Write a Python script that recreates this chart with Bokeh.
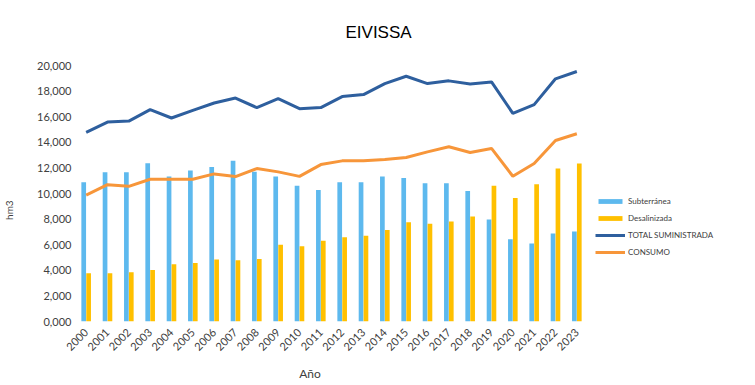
import math
from bokeh.plotting import figure
from bokeh.models import FactorRange, Range1d, Legend, LegendItem, ColumnDataSource, FixedTicker
from bokeh.transform import dodge
from bokeh.embed import file_html
from bokeh.resources import INLINE

years = ["2000", "2001", "2002", "2003", "2004", "2005", "2006", "2007", "2008", "2009", "2010", "2011",
         "2012", "2013", "2014", "2015", "2016", "2017", "2018", "2019", "2020", "2021", "2022", "2023"]
subterranea = [10880, 11660, 11660, 12370, 11320, 11790, 12080, 12550, 11690, 11320, 10610, 10270,
               10880, 10880, 11320, 11220, 10800, 10800, 10200, 7970, 6430, 6090, 6880, 7030]
desalinizada = [3760, 3760, 3840, 4030, 4470, 4580, 4840, 4780, 4890, 5990, 5880, 6300,
                6590, 6690, 7140, 7760, 7630, 7820, 8210, 10610, 9650, 10720, 11950, 12340]
total_suministrada = [14770, 15580, 15660, 16550, 15900, 16500, 17070, 17460, 16710, 17410, 16630, 16710,
                      17570, 17730, 18590, 19160, 18590, 18800, 18560, 18720, 16260, 16940, 18960, 19530]
consumo = [9880, 10690, 10560, 11110, 11110, 11110, 11530, 11320, 11950, 11690, 11340, 12260,
           12550, 12550, 12650, 12810, 13250, 13650, 13200, 13520, 11350, 12340, 14140, 14670]
y_ticks = [0, 2000, 4000, 6000, 8000, 10000, 12000, 14000, 16000, 18000, 20000]
y_tick_labels = ["0,000", "2,000", "4,000", "6,000", "8,000", "10,000", "12,000", "14,000",
                 "16,000", "18,000", "20,000"]

src = ColumnDataSource(dict(year=years, sub=subterranea, des=desalinizada,
                            tot=total_suministrada, con=consumo))

FONT = "Lato"
TXT = "#404040"

p = figure(frame_width=512, frame_height=256, x_range=FactorRange(factors=years, range_padding=0),
           y_range=Range1d(0, 20000), output_backend="svg", toolbar_location=None,
           min_border_left=66, min_border_right=161, min_border_top=65, min_border_bottom=50)
p.x_range.factor_padding = 0
p.outline_line_color = None
p.grid.grid_line_color = None

p.title.text = "EIVISSA"
p.title.align = "left"
p.title.offset = 270
p.title.vertical_align = "top"
p.title.text_font = "Liberation Sans"
p.title.text_font_size = "17px"
p.title.text_font_style = "normal"
p.title.text_color = "#000000"
p.title.standoff = 43

r1 = p.vbar(x=dodge("year", -0.115, range=p.x_range), top="sub", width=0.22, source=src,
            fill_color="#5DB9EE", line_color=None)
r2 = p.vbar(x=dodge("year", 0.115, range=p.x_range), top="des", width=0.22, source=src,
            fill_color="#FFC000", line_color=None)
r3 = p.line(x="year", y="tot", source=src, line_color="#2E5F9E", line_width=3)
r4 = p.line(x="year", y="con", source=src, line_color="#F7963A", line_width=3)

for ax in (p.xaxis[0], p.yaxis[0]):
    ax.axis_line_color = None
    ax.major_tick_line_color = None
    ax.minor_tick_line_color = None
    ax.major_tick_out = 0
    ax.major_tick_in = 0
    ax.minor_tick_out = 0
    ax.minor_tick_in = 0
    ax.major_label_text_font = FONT
    ax.major_label_text_font_size = "11px"
    ax.major_label_text_color = TXT
    ax.axis_label_text_font = FONT
    ax.axis_label_text_font_size = "12px"
    ax.axis_label_text_font_style = "normal"
    ax.axis_label_text_color = TXT

p.yaxis.ticker = FixedTicker(ticks=y_ticks)
p.yaxis.major_label_overrides = {t: l for t, l in zip(y_ticks, y_tick_labels)}
p.yaxis.axis_label = "hm3" + "\u00a0" * 13
p.yaxis.axis_label_text_font_size = "10px"
p.yaxis.axis_label_standoff = 19
p.yaxis.major_label_standoff = 4
p.xaxis.axis_label = "Año" + "\u00a0" * 14
p.xaxis.major_label_orientation = math.pi / 4
p.xaxis.axis_label_standoff = 9
p.xaxis.major_label_standoff = 9

legend = Legend(items=[LegendItem(label="Subterránea", renderers=[r1]),
                       LegendItem(label="Desalinizada", renderers=[r2]),
                       LegendItem(label="TOTAL SUMINISTRADA", renderers=[r3]),
                       LegendItem(label="CONSUMO", renderers=[r4])],
                location=(8, 63), padding=0, margin=0, spacing=4,
                glyph_width=30, glyph_height=6, label_height=13, label_standoff=3,
                label_text_font=FONT, label_text_font_size="8px", label_text_color=TXT,
                border_line_alpha=0, background_fill_alpha=0)
p.add_layout(legend, "right")

open("out.html", "w").write(file_html(p, INLINE))
